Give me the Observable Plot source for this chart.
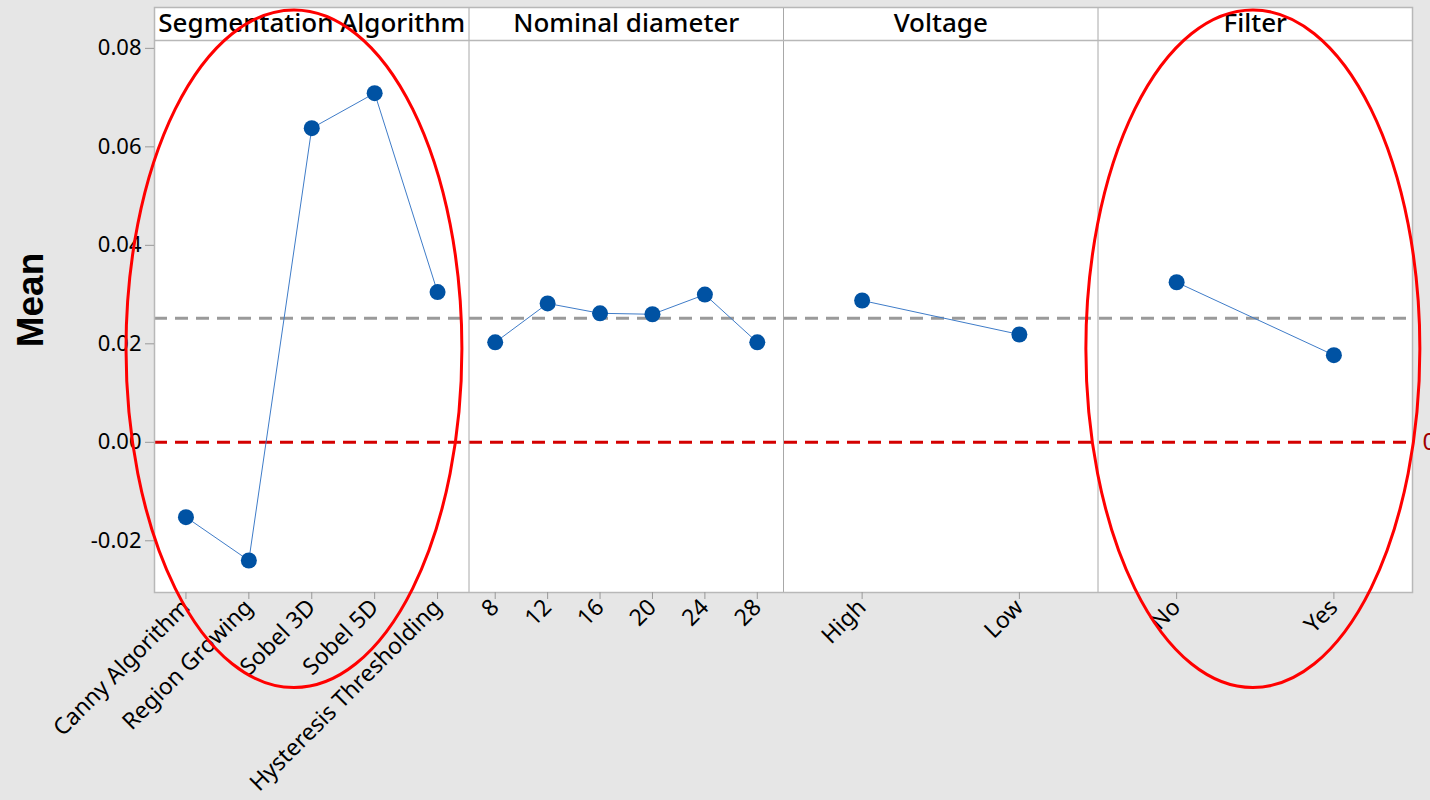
<!DOCTYPE html>
<html>
<head>
<meta charset="utf-8">
<script src="https://cdn.jsdelivr.net/npm/d3@7"></script>
<script src="https://cdn.jsdelivr.net/npm/@observablehq/plot@0.6"></script>
<style>
  html, body { margin: 0; padding: 0; background: #e6e6e6; }
  #chart { width: 1430px; height: 800px; overflow: hidden; }
</style>
</head>
<body>
<div id="chart"></div>
<script>
// ---- data ----
const factors = ["Segmentation Algorithm", "Nominal diameter", "Voltage", "Filter"];
const segLevels = ["Canny Algorithm", "Region Growing", "Sobel 3D", "Sobel 5D", "Hysteresis Thresholding"];
const segMeans = [-0.0152, -0.0240, 0.0638, 0.0709, 0.0305];
const diaLevels = ["8", "12", "16", "20", "24", "28"];
const diaMeans = [0.0203, 0.0282, 0.0262, 0.0260, 0.0300, 0.0203];
const voltLevels = ["High", "Low"];
const voltMeans = [0.0288, 0.0219];
const filtLevels = ["No", "Yes"];
const filtMeans = [0.0325, 0.0177];
const grandMean = 0.0252;
const refValue = 0;
const yTicks = [-0.02, 0, 0.02, 0.04, 0.06, 0.08];
// y extent of the data area and the facet header band (domain units)
const yLow = -0.0305, yDataTop = 0.0816, yHeaderTop = 0.0883;
// hand-drawn ellipse annotations (x in facet units, y in data units)
const ellipses = [
  {cx: 0.445, cy: 0.0189, rx: 0.534, ry: 0.0688},
  {cx: 3.494, cy: 0.0189, rx: 0.531, ry: 0.0688}
];

// ---- build table ----
const groups = [segLevels, diaLevels, voltLevels, filtLevels];
const means = [segMeans, diaMeans, voltMeans, filtMeans];
const rows = [];
groups.forEach((levels, f) => {
  levels.forEach((lv, i) => {
    rows.push({factor: factors[f], level: lv, pos: f + (i + 0.5) / levels.length, mean: means[f][i]});
  });
});
const labelOf = new Map(rows.map(r => [r.pos, r.level]));
const fmt = d => d3.format(".2f")(d).replace("\u2212", "-");

const chart = Plot.plot({
  width: 1430,
  height: 800,
  marginLeft: 154,
  marginRight: 18,
  marginTop: 7,
  marginBottom: 208,
  style: {background: "transparent", fontFamily: "'Noto Sans', 'Open Sans', sans-serif", fontSize: "22px", color: "black", overflow: "visible"},
  x: {domain: [0, 4], axis: null},
  y: {domain: [yLow, yHeaderTop], axis: null},
  marks: [
    Plot.frame({fill: "white", stroke: null}),
    Plot.ruleY([grandMean], {stroke: "#9a9a9a", strokeWidth: 3, strokeDasharray: "13,8"}),
    Plot.ruleY([refValue], {stroke: "#d40000", strokeWidth: 3, strokeDasharray: "13,8"}),
    Plot.ruleX([1, 2, 3], {stroke: "#a8a8a8", strokeWidth: 1}),
    Plot.ruleY([yDataTop], {stroke: "#b8b8b8", strokeWidth: 1.5}),
    Plot.frame({stroke: "#b8b8b8", strokeWidth: 1.5}),
    Plot.line(rows, {x: "pos", y: "mean", z: "factor", stroke: "#3f7cc8", strokeWidth: 1}),
    Plot.dot(rows, {x: "pos", y: "mean", r: 8, fill: "#0052a3", stroke: null}),
    Plot.axisY({ticks: yTicks, tickFormat: fmt, tickSize: 9, tickPadding: 4, stroke: "#999", fill: "black", fontSize: 22, label: null}),
    Plot.axisX({ticks: rows.map(r => r.pos), tickFormat: d => labelOf.get(d), tickSize: 7, tickPadding: 4, tickRotate: -45, stroke: "#999", fill: "black", fontSize: 23, label: null}),
    Plot.text(factors, {x: (d, i) => i + 0.5, y: (yDataTop + yHeaderTop) / 2, text: d => d, fontSize: 26, fontWeight: 500, fill: "black"}),
    Plot.text(["Mean"], {frameAnchor: "left", dx: -123, rotate: -90, textAnchor: "middle", lineAnchor: "middle", text: d => d, fontSize: 37, fontWeight: "bold", fontFamily: "'Liberation Sans', Arial, sans-serif", fill: "black"}),
    Plot.text([refValue], {y: d => d, frameAnchor: "right", dx: 10, textAnchor: "start", text: d => String(d), fontSize: 24, fill: "#a00000"})
  ]
});

document.getElementById("chart").appendChild(chart);

// ellipse annotations positioned through the chart's scales
const sx = chart.scale("x"), sy = chart.scale("y");
const svg = d3.select(chart);
ellipses.forEach(e => {
  const cx = sx.apply(e.cx), cy = sy.apply(e.cy);
  const rx = Math.abs(sx.apply(e.cx + e.rx) - cx);
  const ry = Math.abs(sy.apply(e.cy + e.ry) - cy);
  svg.append("ellipse")
    .attr("cx", cx).attr("cy", cy).attr("rx", rx).attr("ry", ry)
    .attr("fill", "none").attr("stroke", "#ff0000").attr("stroke-width", 3);
});
</script>
</body>
</html>
